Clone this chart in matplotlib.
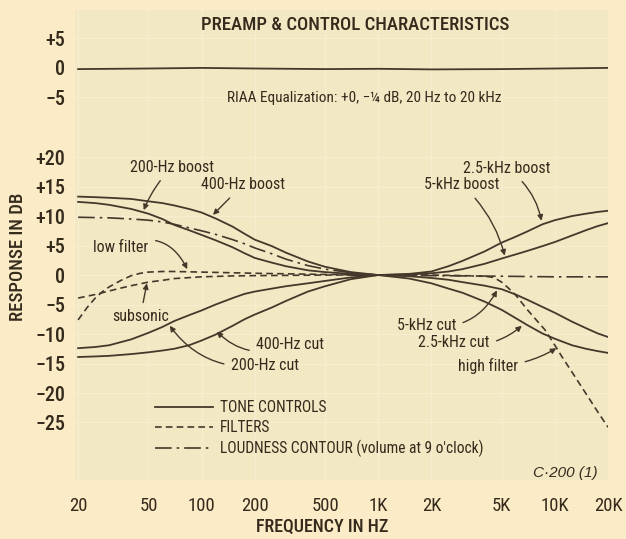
# -----------------------------------------------------------------------------
# Preamp & control characteristics (scanned test-report chart)
# -----------------------------------------------------------------------------
import numpy as np
import matplotlib
matplotlib.use("Agg")
import matplotlib.pyplot as plt
from matplotlib.lines import Line2D

# Frequencies (Hz) and responses (dB)
riaaFreq = [20, 50, 100, 200, 500, 1000, 2000, 5000, 10000, 20000]
riaaDb = [-0.2, -0.1, 0.0, -0.1, -0.2, -0.15, -0.25, -0.2, -0.1, 0.0]

bassFreq = [20, 25, 30, 40, 50, 60, 70, 85, 100, 120, 150, 175, 200, 250,
            300, 400, 500, 700, 1000, 1500]
boost400 = [13.3, 13.2, 13.1, 12.9, 12.5, 12.2, 11.8, 11.2, 10.6, 9.6, 8.2,
            7.0, 6.0, 4.9, 3.8, 2.3, 1.4, 0.5, 0.0, 0.0]
boost200 = [12.4, 12.2, 11.9, 11.2, 10.4, 9.5, 8.5, 7.6, 6.8, 5.9, 4.7,
            3.7, 2.9, 2.1, 1.5, 0.8, 0.5, 0.2, 0.0, 0.0]
cut200 = [-12.4, -12.2, -11.9, -10.9, -9.8, -8.8, -7.8, -6.8, -6.0, -5.0,
          -3.9, -3.2, -2.8, -2.3, -1.9, -1.4, -1.0, -0.4, 0.0, 0.0]
cut400 = [-13.9, -13.8, -13.7, -13.4, -13.1, -12.8, -12.5, -11.9, -11.1,
          -10.1, -8.6, -7.5, -6.7, -5.5, -4.4, -2.8, -1.9, -0.7, 0.0, 0.0]

trebleFreq = [700, 1000, 1500, 2000, 2500, 3000, 4000, 5000, 6000, 7000,
              8500, 10000, 12500, 15000, 17500, 20000]
boost2k5 = [0.0, 0.0, 0.2, 0.6, 1.5, 2.4, 4.0, 5.5, 6.5, 7.4, 8.6, 9.3,
            10.0, 10.4, 10.7, 10.9]
boost5k = [0.0, 0.0, 0.1, 0.3, 0.6, 1.0, 1.9, 2.8, 3.5, 4.1, 4.9, 5.6,
           6.7, 7.6, 8.3, 8.8]
cut5k = [0.0, 0.0, -0.2, -0.5, -0.8, -1.2, -1.8, -2.4, -3.3, -4.2, -5.4,
         -6.4, -7.9, -9.0, -9.9, -10.5]
cut2k5 = [0.0, 0.0, -0.6, -1.4, -2.3, -3.0, -4.5, -5.9, -7.3, -8.5, -9.9,
          -10.8, -11.9, -12.5, -12.9, -13.2]

loudFreq = [20, 30, 40, 50, 60, 70, 85, 100, 120, 150, 175, 200, 250, 300,
            400, 500, 700, 1000, 2000, 5000, 10000, 20000]
loudDb = [9.8, 9.7, 9.5, 9.3, 9.0, 8.6, 8.0, 7.5, 6.9, 6.0, 5.3, 4.6, 3.6,
          2.7, 1.6, 1.0, 0.4, 0.0, -0.1, -0.2, -0.3, -0.3]

lowFiltFreq = [20, 22.5, 25, 27.5, 30, 35, 40, 45, 50, 60, 70, 100, 200, 500, 1000]
lowFiltDb = [-7.6, -5.5, -3.9, -2.8, -2.0, -0.9, -0.1, 0.3, 0.5, 0.6, 0.6,
             0.5, 0.3, 0.1, 0.0]
subFreq = [20, 25, 30, 35, 40, 50, 60, 70, 100, 150, 200, 500, 1000]
subDb = [-3.9, -3.3, -2.7, -2.2, -1.8, -1.2, -0.9, -0.6, -0.3, -0.15, -0.1,
         0.0, 0.0]
highFiltFreq = [1000, 2000, 3000, 4000, 4500, 5000, 5500, 6000, 7000, 8000,
                8800, 10000, 11000, 12600, 15000, 17500, 20000]
highFiltDb = [0.0, 0.0, -0.1, -0.2, -0.4, -1.2, -2.3, -3.4, -5.9, -7.9,
              -9.3, -11.9, -13.9, -16.6, -20.1, -23.2, -25.8]

xTicks = [20, 50, 100, 200, 500, 1000, 2000, 5000, 10000, 20000]
xTickLabels = ["20", "50", "100", "200", "500", "1K", "2K", "5K", "10K", "20K"]
topTicks = [5, 0, -5]
topTickLabels = ["+5", "0", "\u22125"]
mainTicks = [20, 15, 10, 5, 0, -5, -10, -15, -20, -25]
mainTickLabels = ["+20", "+15", "+10", "+5", "0", "\u22125", "\u221210",
                  "\u221215", "\u221220", "\u221225"]

# ...
paper = "#fbebc7"
tint = "#f2e8c4"
ink = "#45382a"
textInk = "#352b1c"
plt.rcParams["font.family"] = ["Roboto Condensed", "DejaVu Sans"]

solid = dict(color=ink, lw=1.3, ls="-")
dashed = dict(color=ink, lw=1.2, ls=(0, (4, 2.5)))
dashdot = dict(color=ink, lw=1.2, ls=(0, (10, 3, 1.5, 3)))

# -----------------------------------------------------------------------------
fig = plt.figure(figsize=(6.26, 5.39), dpi=100, facecolor=paper)
W, H = 626.0, 539.0
axLeft, axRight = 75, 608
axTop = fig.add_axes([axLeft / W, 1 - 127 / H, (axRight - axLeft) / W, 117 / H])
axMain = fig.add_axes([axLeft / W, 1 - 480 / H, (axRight - axLeft) / W, 353 / H])

for ax in (axTop, axMain):
  ax.set_facecolor(tint)
  ax.set_xscale("log")
  ax.set_xlim(19.2, 20000)
  for s in ax.spines.values():
    s.set_visible(False)
  ax.tick_params(length=0, colors=textInk, labelsize=14.5, pad=7)
  ax.xaxis.set_minor_locator(matplotlib.ticker.NullLocator())
  ax.set_xticks(xTicks)
  ax.grid(True, color="#f6eed0", lw=0.8)
  ax.set_axisbelow(True)

# RIAA panel
axTop.set_ylim(-10.0, 9.8)
axTop.set_yticks(topTicks)
axTop.set_yticklabels(topTickLabels, fontweight="medium")
axTop.set_xticklabels([])
axTop.plot(riaaFreq, riaaDb, **solid)
axTop.text(0.542, 0.25, "RIAA Equalization: +0, \u2212\u00bc dB, 20 Hz to 20 kHz",
           transform=axTop.transAxes, ha="center", va="center",
           fontsize=11, color=textInk)

# Main panel
axMain.set_ylim(-34.75, 25.1)
axMain.set_yticks(mainTicks)
axMain.set_yticklabels(mainTickLabels, fontweight="medium")
axMain.set_xticklabels(xTickLabels, fontsize=13.5)
axMain.tick_params(axis="x", pad=12)

for curve in (boost400, boost200, cut200, cut400):
  axMain.plot(bassFreq, curve, **solid)
for curve in (boost2k5, boost5k, cut5k, cut2k5):
  axMain.plot(trebleFreq, curve, **solid)
axMain.plot(lowFiltFreq, lowFiltDb, **dashed)
axMain.plot(subFreq, subDb, **dashed)
axMain.plot(highFiltFreq, highFiltDb, **dashed)
axMain.plot(loudFreq, loudDb, **dashdot)

# Callouts: (label, text position, arrow target, curvature)
callouts = [
  ("200-Hz boost", (68, 18.3), (47, 11.0), 0.1),
  ("400-Hz boost", (171, 15.3), (116, 10.2), 0.0),
  ("low filter", (35, 4.7), (83, 1.0), -0.5),
  ("subsonic", (45, -7.1), (49, -1.4), 0.0),
  ("400-Hz cut", (317, -11.7), (122, -9.6), -0.35),
  ("200-Hz cut", (228, -15.3), (66, -8.6), -0.3),
  ("2.5-kHz boost", (5360, 18.1), (8400, 9.2), -0.2),
  ("5-kHz boost", (2980, 15.3), (5200, 3.3), -0.15),
  ("5-kHz cut", (1880, -8.6), (4700, -2.6), 0.35),
  ("2.5-kHz cut", (2690, -11.5), (6500, -8.6), 0.25),
  ("high filter", (4200, -15.4), (10200, -12.4), 0.15),
]
for label, txy, xy, rad in callouts:
  axMain.annotate(label, xy=xy, xytext=txy, ha="center", va="center",
                  fontsize=11.5, color=textInk,
                  arrowprops=dict(arrowstyle="-|>", color=ink, lw=1.0,
                                  mutation_scale=8, shrinkA=3, shrinkB=0,
                                  connectionstyle="arc3,rad=%.2f" % rad))

# Legend
handles = [
  Line2D([], [], **solid),
  Line2D([], [], **dashed),
  Line2D([], [], **dashdot),
]
labels = ["TONE CONTROLS", "FILTERS", "LOUDNESS CONTOUR (volume at 9 o'clock)"]
leg = fig.legend(handles, labels, loc="upper left",
                 bbox_to_anchor=(155 / W, 1 - 400 / H), frameon=False,
                 fontsize=11.2, handlelength=3.7, handletextpad=0.5,
                 labelspacing=0.32, borderpad=0, borderaxespad=0)
for t in leg.get_texts():
  t.set_color(textInk)

axMain.text(0.919, 0.02, "C\u00b7200 (1)", transform=axMain.transAxes,
            ha="center", va="center", fontsize=11, style="italic",
            family=["Liberation Sans", "DejaVu Sans"], color=textInk)

# Titles
fig.text(355 / W, 1 - 25 / H, "PREAMP & CONTROL CHARACTERISTICS",
         ha="center", va="center", fontsize=13.5, fontweight="medium",
         color=textInk)
fig.text(18 / W, 1 - 257 / H, "RESPONSE IN DB", rotation=90,
         ha="center", va="center", fontsize=13.5, fontweight="medium",
         color=textInk)
fig.text(322 / W, 1 - 527 / H, "FREQUENCY IN HZ",
         ha="center", va="center", fontsize=13, fontweight="medium",
         color=textInk)

fig.savefig("out.png", dpi=100, facecolor=paper)
